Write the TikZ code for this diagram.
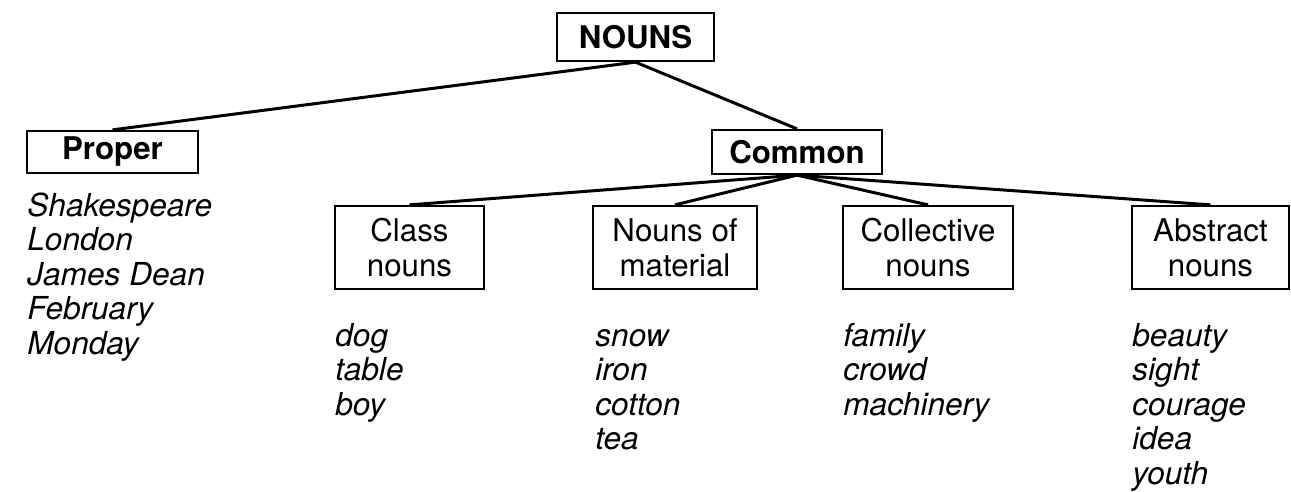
\documentclass[tikz,border=0pt]{standalone}
\usepackage{fontspec}
\setmainfont{TeX Gyre Heros}

\begin{document}
\begin{tikzpicture}[x=0.02cm,y=-0.02cm,
  kind/.style={draw,line width=1.3pt,inner sep=0pt,align=center,
    font=\fontsize{17.8}{19.8}\selectfont},
  head/.style={kind,font=\fontsize{17.8}{19.8}\selectfont\bfseries},
  examples/.style={anchor=north west,inner sep=0pt,align=left,
    font=\fontsize{18}{19.7}\selectfont\itshape},
  link/.style={line width=1.7pt}]
  \useasboundingbox (0,0) rectangle (1291,491);

  \node[head,minimum width=3.14cm,minimum height=0.96cm] (nouns) at (635.5,37) {NOUNS};
  \node[head,minimum width=3.42cm,minimum height=0.84cm] (proper) at (112.5,152) {Proper};
  \node[head,minimum width=3.40cm,minimum height=0.88cm] (common) at (797,152) {Common};

  \node[kind,minimum width=2.98cm,minimum height=1.66cm] (class) at (409.5,247.5) {Class\\nouns};
  \node[kind,minimum width=3.28cm,minimum height=1.66cm] (material) at (675,247.5) {Nouns of\\material};
  \node[kind,minimum width=3.40cm,minimum height=1.66cm] (collective) at (928,247.5) {Collective\\nouns};
  \node[kind,minimum width=3.14cm,minimum height=1.66cm] (abstract) at (1210.5,247.5) {Abstract\\nouns};

  \node[examples] (properlist) at (27,191.5) {\strut Shakespeare\\London\\James Dean\\February\\Monday};
  \node[examples] (classlist) at (335,321.5) {\strut dog\\table\\boy};
  \node[examples] (materiallist) at (595,321.5) {\strut snow\\iron\\cotton\\tea};
  \node[examples] (collectivelist) at (843,321.5) {\strut family\\crowd\\machinery};
  \node[examples] (abstractlist) at (1132,321.5) {\strut beauty\\sight\\courage\\idea\\youth};

  \draw[link] (nouns.south) -- (proper.north);
  \draw[link] (nouns.south) -- (common.north);
  \draw[link] (common.south) -- (class.north);
  \draw[link] (common.south) -- (material.north);
  \draw[link] (common.south) -- (collective.north);
  \draw[link] (common.south) -- (abstract.north);
\end{tikzpicture}
\end{document}
